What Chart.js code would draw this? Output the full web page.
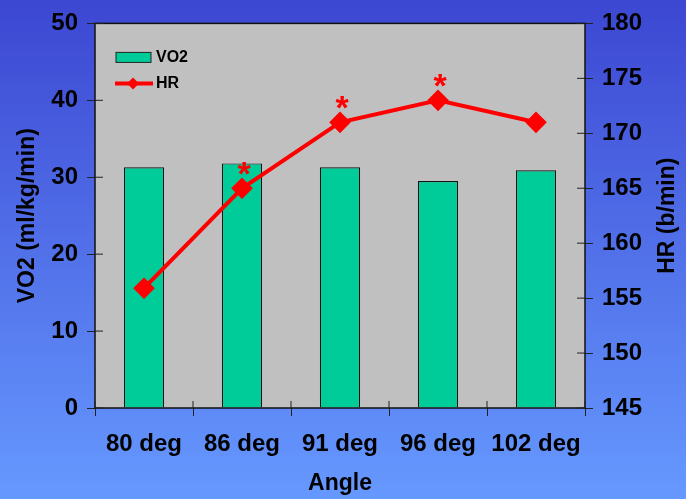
<!DOCTYPE html>
<html>
<head>
  <meta charset="UTF-8" />
  <title>VO2 and HR by Angle</title>
  <script src="https://cdn.jsdelivr.net/npm/chart.js"></script>
  <style>
    html, body { margin: 0; padding: 0; background: #5070e8; }
    #chart { display: block; }
  </style>
</head>
<body>
  <canvas id="chart" width="686" height="499"></canvas>

  <script>
    const categories = ['80 deg', '86 deg', '91 deg', '96 deg', '102 deg'];
    const vo2Values = [31.3, 31.8, 31.3, 29.5, 30.9];
    const hrValues = [155.9, 165, 171, 173, 171];
    const significant = [false, true, true, true, false];
    const vo2Range = [0, 50, 10];
    const hrRange = [145, 180, 5];
    const hrTitle = 'HR (b/min)';

    const FONT = '"Liberation Sans", Arial, sans-serif';
    const TEAL = '#00cc99';
    const RED = '#ff0000';

    // blue gradient page + grey plot area
    const backdrop = {
      id: 'backdrop',
      beforeDraw(chart) {
        const { ctx, width, height, chartArea: a } = chart;
        const g = ctx.createLinearGradient(0, 0, 0, height);
        g.addColorStop(0, '#3c47d2');
        g.addColorStop(1, '#6699ff');
        ctx.save();
        ctx.fillStyle = g;
        ctx.fillRect(0, 0, width, height);
        ctx.fillStyle = '#c0c0c0';
        ctx.fillRect(a.left, a.top, a.right - a.left, a.bottom - a.top);
        ctx.restore();
      }
    };

    // border, inner half of tick marks, asterisks, legend, right title
    const extras = {
      id: 'extras',
      afterDraw(chart) {
        const { ctx, chartArea: a, scales } = chart;
        ctx.save();
        ctx.strokeStyle = '#111';
        ctx.lineWidth = 1.5;
        ctx.strokeRect(a.left, a.top, a.right - a.left, a.bottom - a.top);

        ctx.lineWidth = 1;
        ctx.strokeStyle = '#222';
        ctx.beginPath();
        scales.y.ticks.forEach((t, i) => {
          const y = scales.y.getPixelForTick(i);
          ctx.moveTo(a.left, y); ctx.lineTo(a.left + 8, y);
        });
        scales.y1.ticks.forEach((t, i) => {
          const y = scales.y1.getPixelForTick(i);
          ctx.moveTo(a.right, y); ctx.lineTo(a.right - 8, y);
        });
        for (let i = 0; i <= categories.length; i++) {
          const x = a.left + (a.right - a.left) * i / categories.length;
          ctx.moveTo(x, a.bottom); ctx.lineTo(x, a.bottom - 7);
        }
        ctx.stroke();

        // significance marks
        const meta = chart.getDatasetMeta(1);
        ctx.fillStyle = RED;
        ctx.font = 'bold 34px ' + FONT;
        ctx.textAlign = 'center';
        ctx.textBaseline = 'alphabetic';
        significant.forEach((s, i) => {
          if (!s) return;
          const p = meta.data[i];
          ctx.fillText('*', p.x + 2, p.y - 3);
        });

        // legend
        const lx = a.left + 21, ly = a.top + 29;
        ctx.fillStyle = TEAL;
        ctx.fillRect(lx, ly, 35, 10);
        ctx.strokeStyle = '#222';
        ctx.lineWidth = 1;
        ctx.strokeRect(lx, ly, 35, 10);
        ctx.strokeStyle = RED;
        ctx.lineWidth = 4;
        ctx.beginPath();
        ctx.moveTo(lx - 1, ly + 31); ctx.lineTo(lx + 37, ly + 31);
        ctx.stroke();
        ctx.fillStyle = RED;
        ctx.beginPath();
        ctx.moveTo(lx + 17, ly + 25); ctx.lineTo(lx + 23, ly + 31);
        ctx.lineTo(lx + 17, ly + 37); ctx.lineTo(lx + 11, ly + 31);
        ctx.closePath();
        ctx.fill();
        ctx.fillStyle = '#000';
        ctx.font = 'bold 16px ' + FONT;
        ctx.textAlign = 'left';
        ctx.textBaseline = 'middle';
        ctx.fillText(chart.data.datasets[0].label, lx + 40, ly + 5);
        ctx.fillText(chart.data.datasets[1].label, lx + 40, ly + 31);

        // right axis title, reading bottom to top
        ctx.translate(scales.y1.right - 18, (a.top + a.bottom) / 2);
        ctx.rotate(-Math.PI / 2);
        ctx.font = 'bold 23px ' + FONT;
        ctx.textAlign = 'center';
        ctx.fillText(hrTitle, 0, 0);
        ctx.restore();
      }
    };

    const tickFont = { family: FONT, size: 24, weight: 'bold' };
    const titleFont = { family: FONT, size: 23, weight: 'bold' };

    new Chart(document.getElementById('chart'), {
      data: {
        labels: categories,
        datasets: [
          {
            type: 'bar',
            label: 'VO2',
            data: vo2Values,
            yAxisID: 'y',
            backgroundColor: TEAL,
            borderColor: '#111',
            borderWidth: 1.2,
            barPercentage: 0.82,
            categoryPercentage: 0.5,
            order: 1
          },
          {
            type: 'line',
            label: 'HR',
            data: hrValues,
            yAxisID: 'y1',
            borderColor: RED,
            backgroundColor: RED,
            borderWidth: 4,
            pointStyle: 'rectRot',
            pointRadius: 8,
            pointHoverRadius: 8,
            tension: 0,
            order: 0
          }
        ]
      },
      options: {
        responsive: false,
        animation: false,
        layout: { padding: { top: 20 } },
        plugins: {
          legend: { display: false },
          tooltip: { enabled: false }
        },
        scales: {
          x: {
            grid: { display: true, drawOnChartArea: false, offset: true, tickLength: 8, color: '#222' },
            border: { display: false },
            ticks: { color: '#000', font: tickFont, padding: 14, maxRotation: 0 },
            title: { display: true, text: 'Angle', color: '#000', font: titleFont, padding: 2 },
            afterFit(s) { s.height = 91; }
          },
          y: {
            position: 'left',
            min: vo2Range[0], max: vo2Range[1],
            ticks: { stepSize: vo2Range[2], color: '#000', font: tickFont, padding: 9 },
            grid: { drawOnChartArea: false, tickLength: 8, color: '#222' },
            border: { display: false },
            title: { display: true, text: 'VO2 (ml/kg/min)', color: '#000', font: titleFont, padding: { top: 14, bottom: 0 } },
            afterFit(s) { s.width = 95; }
          },
          y1: {
            position: 'right',
            min: hrRange[0], max: hrRange[1],
            ticks: { stepSize: hrRange[2], color: '#000', font: tickFont, padding: 9 },
            grid: { drawOnChartArea: false, tickLength: 8, color: '#222' },
            border: { display: false },
            afterFit(s) { s.width = 101; }
          }
        }
      },
      plugins: [backdrop, extras]
    });
  </script>
</body>
</html>
